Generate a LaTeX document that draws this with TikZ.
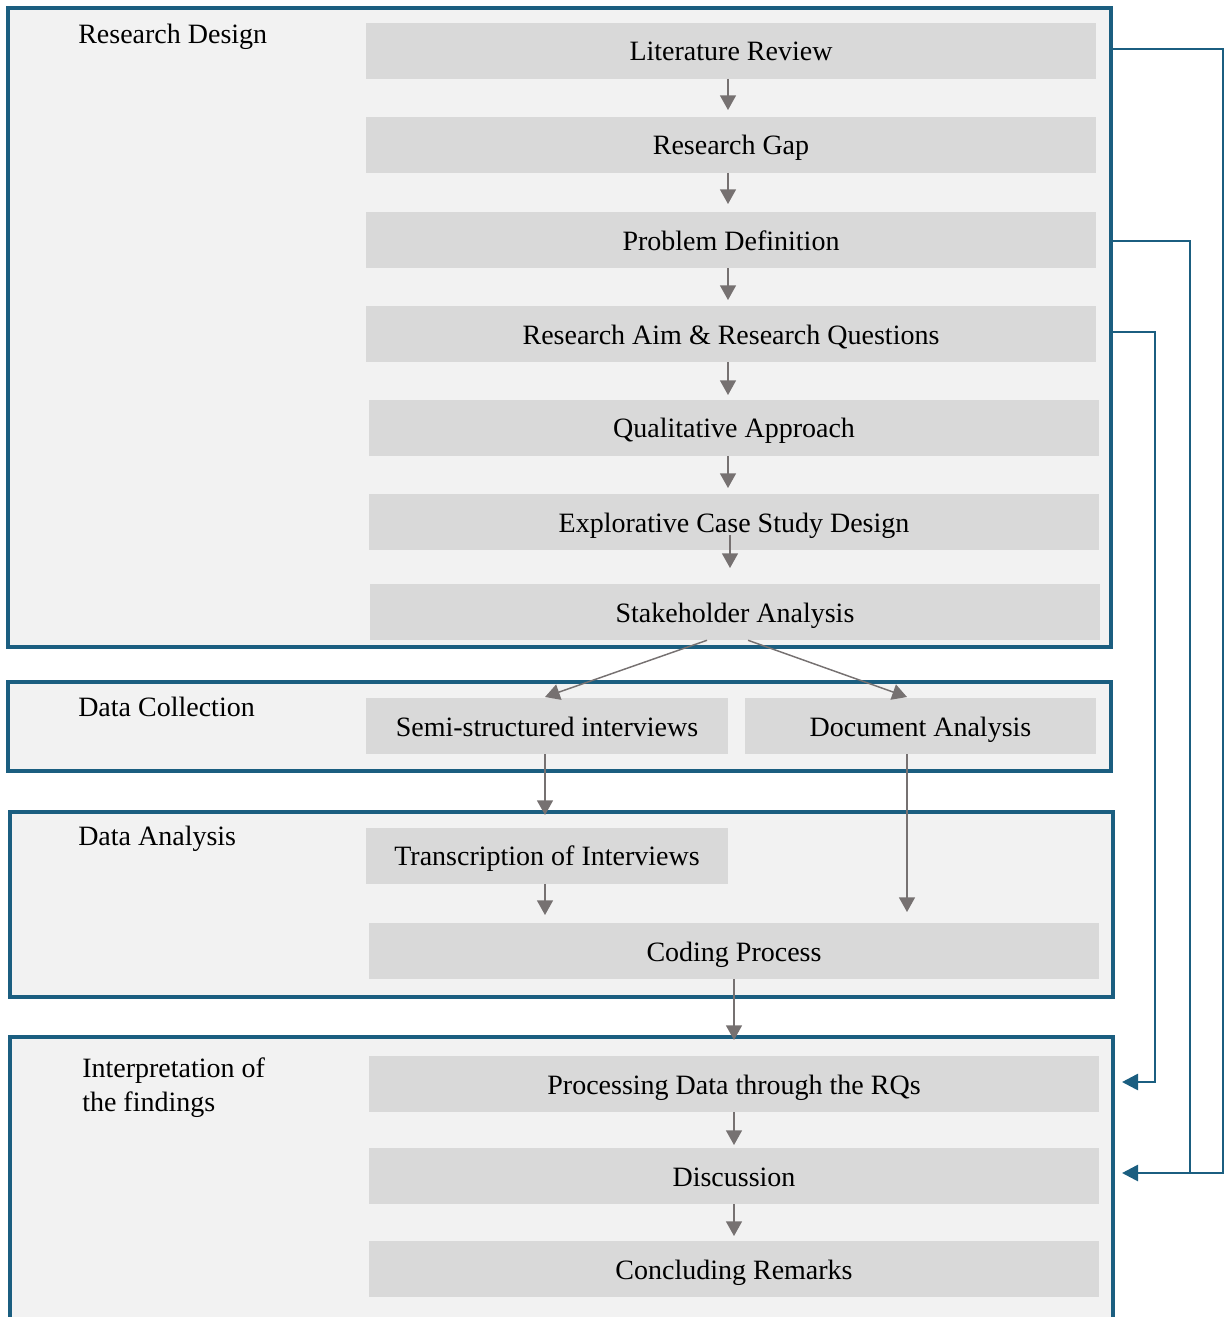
\documentclass[tikz,border=0pt]{standalone}
\usepackage{fontspec}
\setmainfont{Liberation Serif}
\usetikzlibrary{arrows.meta,calc}
\definecolor{framecol}{HTML}{1B5E80}
\definecolor{framefill}{HTML}{F2F2F2}
\definecolor{boxfill}{HTML}{D9D9D9}
\definecolor{arrowgray}{HTML}{767171}
\tikzset{
  phaseframe/.style={draw=framecol, fill=framefill, line width=2.6pt},
  stepbox/.style={fill=boxfill, inner sep=0pt, minimum height=42pt, text=black,
    text height=17pt, text depth=1.6pt,
    font=\fontsize{21}{24}\selectfont},
  wide/.style={minimum width=547.5pt},
  phasetitle/.style={anchor=base west, inner sep=0pt,
    font=\fontsize{21}{25.5}\selectfont},
  flow/.style={draw=arrowgray, line width=1.1pt, -{Triangle[width=12pt,length=11pt]}},
  feedline/.style={draw=framecol, line width=2pt},
  feedback/.style={feedline, -{Triangle[width=12pt,length=12pt]}}
}
\begin{document}
\begin{tikzpicture}[x=0.75pt,y=-0.75pt]
\useasboundingbox (0,0) rectangle (1227,1317);

% phase frames (the last one runs past the lower page edge)
\draw[phaseframe] (8,8) rectangle (1111,647);
\draw[phaseframe] (8,682) rectangle (1111,771);
\draw[phaseframe] (10,812) rectangle (1113,997);
\draw[phaseframe] (10,1037) rectangle (1113,1319);

% phase titles
\node[phasetitle] (t1) at (78,43) {Research Design};
\node[phasetitle] (t2) at (78,716) {Data Collection};
\node[phasetitle] (t3) at (78,845) {Data Analysis};
\node[phasetitle, align=left] (t4) at (82,1111) {Interpretation of\\the findings};

% steps
\node[stepbox,wide] (lr)  at (731,50.5)  {Literature Review};
\node[stepbox,wide] (rg)  at (731,144.5) {Research Gap};
\node[stepbox,wide] (pd)  at (731,240)   {Problem Definition};
\node[stepbox,wide] (ra)  at (731,334)   {Research Aim \& Research Questions};
\node[stepbox,wide] (qa)  at (734,427.5) {Qualitative Approach};
\node[stepbox,wide] (ecs) at (734,522)   {Explorative Case Study Design};
\node[stepbox,wide] (sa)  at (735,612)   {Stakeholder Analysis};
\node[stepbox,minimum width=271.5pt]  (ssi) at (547,726)   {Semi-structured interviews};
\node[stepbox,minimum width=263.25pt] (doc) at (920.5,726) {Document Analysis};
\node[stepbox,minimum width=271.5pt]  (tr)  at (547,855.5) {Transcription of Interviews};
\node[stepbox,wide] (cp)  at (734,951)   {Coding Process};
\node[stepbox,wide] (pr)  at (734,1084)  {Processing Data through the RQs};
\node[stepbox,wide] (di)  at (734,1176)  {Discussion};
\node[stepbox,wide] (cr)  at (734,1269)  {Concluding Remarks};

% main flow
\draw[flow] (lr.south -| 728,0)  -- (728,110);
\draw[flow] (rg.south -| 728,0)  -- (728,204);
\draw[flow] (pd.south -| 728,0)  -- (728,300);
\draw[flow] (ra.south -| 728,0)  -- (728,395);
\draw[flow] (qa.south -| 728,0)  -- (728,488);
\draw[flow] (730,535) -- (730,568);
\draw[flow] (sa.south -| 707,0) -- (545,697);
\draw[flow] (sa.south -| 748,0) -- (907,697);
\draw[flow] (ssi.south -| 545,0) -- (545,815);
\draw[flow] (doc.south -| 907,0) -- (907,912);
\draw[flow] (tr.south -| 545,0) -- (545,915);
\draw[flow] (cp.south -| 734,0) -- (734,1040);
\draw[flow] (pr.south -| 734,0) -- (734,1145);
\draw[flow] (di.south -| 734,0) -- (734,1236);

% feedback links into the interpretation phase
\coordinate (inproc) at (1122,1082);
\coordinate (indisc) at (1122,1173);
\draw[feedback] (1111,49) -- (1223,49) -- (1223,1173) -- (indisc);
\draw[feedline] (1111,241) -- (1190,241) -- (1190,1173);
\draw[feedback] (1111,332) -- (1155,332) -- (1155,1082) -- (inproc);
\end{tikzpicture}
\end{document}
